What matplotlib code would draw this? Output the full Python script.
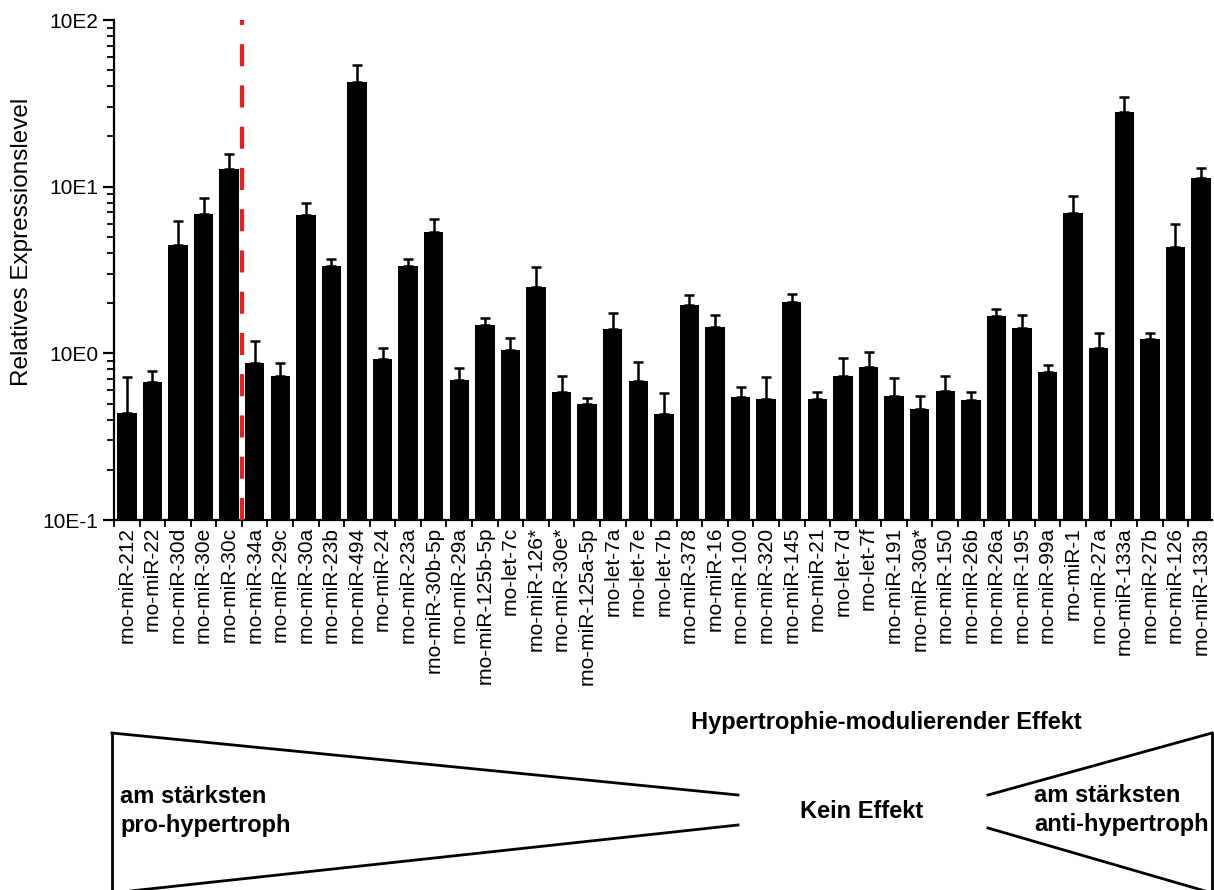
import numpy as np
import matplotlib
matplotlib.use("Agg")
import matplotlib.pyplot as plt
from matplotlib.ticker import FixedLocator, FuncFormatter, LogLocator, NullFormatter

plt.rcParams['font.family'] = ['Liberation Sans', 'DejaVu Sans']

mirnas = ["rno-miR-212", "rno-miR-22", "rno-miR-30d", "rno-miR-30e", "rno-miR-30c",
          "rno-miR-34a", "rno-miR-29c", "rno-miR-30a", "rno-miR-23b", "rno-miR-494",
          "rno-miR-24", "rno-miR-23a", "rno-miR-30b-5p", "rno-miR-29a", "rno-miR-125b-5p",
          "rno-let-7c", "rno-miR-126*", "rno-miR-30e*", "rno-miR-125a-5p", "rno-let-7a",
          "rno-let-7e", "rno-let-7b", "rno-miR-378", "rno-miR-16", "rno-miR-100",
          "rno-miR-320", "rno-miR-145", "rno-miR-21", "rno-let-7d", "rno-let-7f",
          "rno-miR-191", "rno-miR-30a*", "rno-miR-150", "rno-miR-26b", "rno-miR-26a",
          "rno-miR-195", "rno-miR-99a", "rno-miR-1", "rno-miR-27a", "rno-miR-133a",
          "rno-miR-27b", "rno-miR-126", "rno-miR-133b"]

# mean expression level
level = [0.44, 0.67, 4.48, 6.9, 12.7,
         0.88, 0.73, 6.76, 3.36, 42.5,
         0.92, 3.33, 5.38, 0.69, 1.47,
         1.04, 2.49, 0.59, 0.494, 1.40,
         0.685, 0.43, 1.95, 1.44, 0.55,
         0.535, 2.04, 0.533, 0.73, 0.83,
         0.556, 0.462, 0.594, 0.528, 1.68,
         1.41, 0.778, 6.95, 1.08, 27.9,
         1.22, 4.34, 11.3]

# top of the error bar
upper = [0.72, 0.785, 6.2, 8.5, 15.8,
         1.18, 0.88, 7.97, 3.69, 54.0,
         1.07, 3.67, 6.41, 0.82, 1.62,
         1.24, 3.31, 0.73, 0.543, 1.75,
         0.885, 0.578, 2.25, 1.69, 0.624,
         0.72, 2.26, 0.59, 0.944, 1.02,
         0.71, 0.556, 0.73, 0.59, 1.85,
         1.71, 0.855, 8.85, 1.32, 34.4,
         1.33, 5.97, 13.0]

level = np.array(level)
upper = np.array(upper)
x = np.arange(len(mirnas))

fig = plt.figure(figsize=(12.14, 8.90), dpi=100)
ax = fig.add_axes([114/1214, 1 - 520/890, (1212 - 114)/1214, 500/890])

ax.set_yscale('log')
ax.bar(x, level, width=0.76, color='black', zorder=2)
ax.errorbar(x, level, yerr=[np.zeros_like(level), upper - level], fmt='none',
            ecolor='black', elinewidth=1.8, capsize=3.5, capthick=1.8, zorder=2)

ax.axvline(4.5, color='#ee1c1c', lw=3, dashes=(5.3, 4.6), zorder=3)

ax.set_xlim(-0.43, len(mirnas) - 1 + 0.43)
ax.set_ylim(0.1, 100)
ax.spines['top'].set_visible(False)
ax.spines['right'].set_visible(False)
ax.spines['left'].set_linewidth(1.6)
ax.spines['bottom'].set_linewidth(1.6)

ax.yaxis.set_major_locator(FixedLocator([0.1, 1, 10, 100]))
ax.yaxis.set_major_formatter(FuncFormatter(lambda v, p: "10E%d" % round(np.log10(v))))
ax.yaxis.set_minor_locator(LogLocator(base=10, subs=np.arange(2, 10)))
ax.yaxis.set_minor_formatter(NullFormatter())
ax.tick_params(axis='y', which='major', length=8, width=1.6, labelsize=15, pad=3)
ax.tick_params(axis='y', which='minor', length=5, width=1.3)

ax.set_xticks(x - 0.5, minor=False)
ax.set_xticklabels([])
ax.set_xticks(x, minor=True)
ax.set_xticklabels(mirnas, minor=True, rotation=90, fontsize=15)
ax.tick_params(axis='x', which='major', length=5, width=1.3)
ax.tick_params(axis='x', which='minor', length=0, pad=5)

ax.set_ylabel("Relatives Expressionslevel", fontsize=17.5, va='center')
ax.yaxis.set_label_coords(-0.084, 0.556)

# schematic below the chart, drawn in pixel coordinates
ov = fig.add_axes([0, 0, 1, 1], facecolor='none')
ov.set_xlim(0, 1214)
ov.set_ylim(890, 0)
ov.axis('off')
ov.plot([112, 112], [733, 900], color='black', lw=2)
ov.plot([112, 738], [733, 795], color='black', lw=2)
ov.plot([112, 738], [893, 825], color='black', lw=2)
ov.plot([988, 1212], [795, 733], color='black', lw=2)
ov.plot([988, 1212], [828, 893], color='black', lw=2)
ov.plot([1212, 1212], [733, 900], color='black', lw=2)

ov.text(886, 722, "Hypertrophie-modulierender Effekt", fontsize=17, fontweight='bold',
        ha='center', va='center')
ov.text(120, 811, "am stärksten\npro-hypertroph", fontsize=17, fontweight='bold',
        ha='left', va='center', linespacing=1.35)
ov.text(862, 812, "Kein Effekt", fontsize=17, fontweight='bold', ha='center', va='center')
ov.text(1034, 810, "am stärksten\nanti-hypertroph", fontsize=17, fontweight='bold',
        ha='left', va='center', linespacing=1.35)

fig.savefig("out.png", dpi=100)
